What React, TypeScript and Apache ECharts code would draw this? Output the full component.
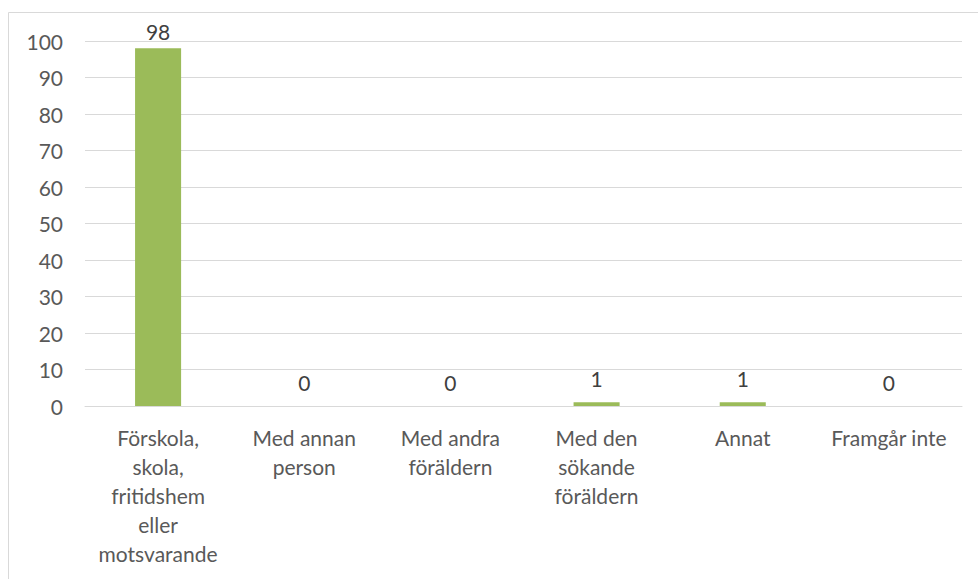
import React, { useEffect, useRef } from "react";
import * as echarts from "echarts";

const categories = [
  "Förskola,\nskola,\nfritidshem\neller\nmotsvarande",
  "Med annan\nperson",
  "Med andra\nföräldern",
  "Med den\nsökande\nföräldern",
  "Annat",
  "Framgår inte",
];
const values = [98, 0, 0, 1, 1, 0];
const yMin = 0;
const yMax = 100;
const yInterval = 10;

const FONT = "Lato, 'Open Sans', sans-serif";

export default function App() {
  const ref = useRef<HTMLDivElement>(null);
  useEffect(() => {
    if (!ref.current) return;
    const chart = echarts.init(ref.current, undefined, { renderer: "svg" });
    // labels near the top of the plot are kept inside it (pulled closer to the bar)
    const barData = values.map((v) =>
      v > 90 ? { value: v, label: { distance: 6 } } : { value: v }
    );
    chart.setOption({
      animation: false,
      backgroundColor: "#ffffff",
      textStyle: { fontFamily: FONT },
      grid: { left: 85, right: 16, top: 41, bottom: 173, containLabel: false },
      xAxis: {
        type: "category",
        data: categories,
        axisLine: { show: true, lineStyle: { color: "#d9d9d9", width: 1 } },
        axisTick: { show: false },
        axisLabel: {
          color: "#595959",
          fontSize: 21,
          fontFamily: FONT,
          lineHeight: 29,
          margin: 17,
          interval: 0,
          align: "center",
        },
      },
      yAxis: {
        type: "value",
        min: yMin,
        max: yMax,
        interval: yInterval,
        axisLine: { show: false },
        axisTick: { show: false },
        splitLine: { lineStyle: { color: "#d9d9d9", width: 1 } },
        axisLabel: { color: "#595959", fontSize: 21, fontFamily: FONT, margin: 22 },
      },
      series: [
        {
          type: "bar",
          data: barData,
          barWidth: "31.5%",
          itemStyle: { color: "#9bbb59" },
          label: {
            show: true,
            position: "top",
            distance: 13,
            color: "#404040",
            fontSize: 21,
            fontFamily: FONT,
          },
        },
      ],
      graphic: [
        {
          type: "line",
          shape: { x1: 8.5, y1: 12.5, x2: 978, y2: 12.5 },
          style: { stroke: "#d9d9d9", lineWidth: 1 },
          silent: true,
        },
        {
          type: "line",
          shape: { x1: 8.5, y1: 12.5, x2: 8.5, y2: 579 },
          style: { stroke: "#d9d9d9", lineWidth: 1 },
          silent: true,
        },
      ],
    });
    return () => chart.dispose();
  }, []);
  return (
    <div
      ref={ref}
      style={{ position: "fixed", left: 0, top: 0, width: 978, height: 579 }}
    />
  );
}
